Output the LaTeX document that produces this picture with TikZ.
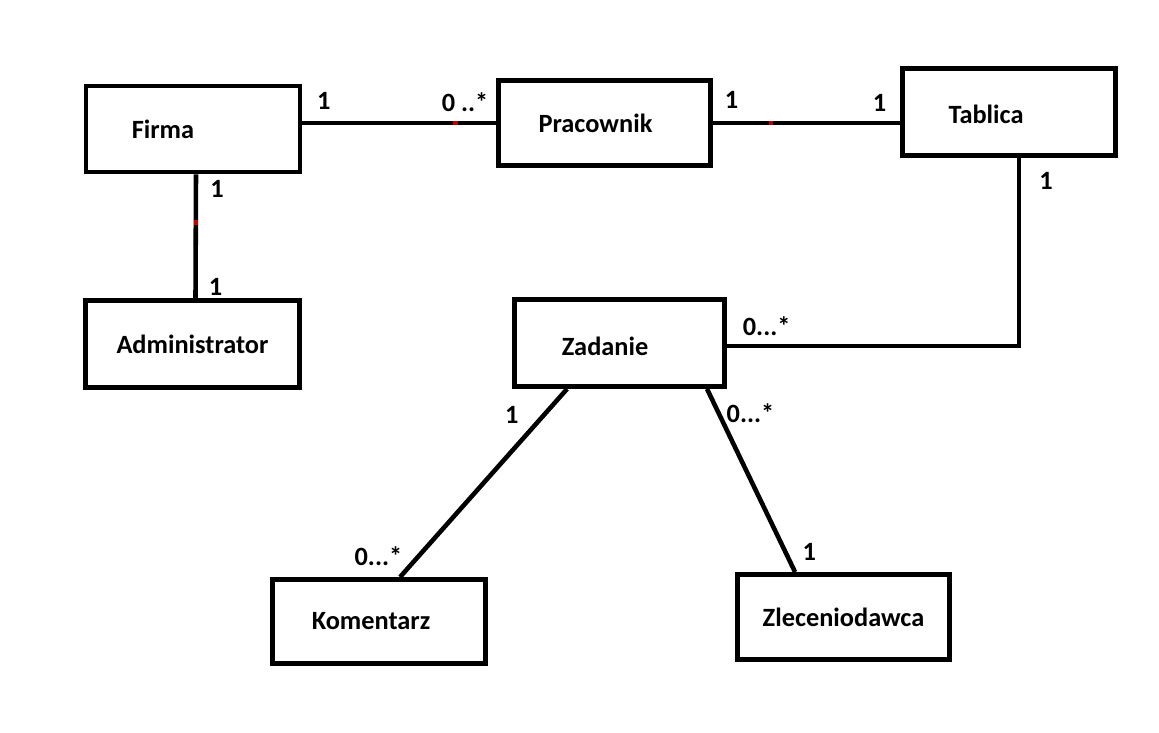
\documentclass[tikz,border=0pt]{standalone}
\usepackage{fontspec}
\setmainfont{Carlito}
\usetikzlibrary{positioning}
\tikzstyle{box} = [draw, rectangle, line width=2.8pt, inner sep=0]
\tikzstyle{title} = [font=\fontsize{15}{18}\selectfont\bfseries]
\tikzstyle{assoc} = [line width=2.6pt]
\tikzstyle{mult} = [font=\fontsize{15}{18}\selectfont\bfseries, inner sep=0]
\tikzstyle{tick} = [fill=red!75!black, inner sep=0, minimum size=0.09cm]

\begin{document}
\begin{tikzpicture}[x=0.02cm, y=-0.02cm]
        \useasboundingbox (0,0) rectangle (1159,733);
        \node [box, minimum width=4.28cm, minimum height=1.72cm, label={[title, xshift=-0.6cm]center:Firma}] (firma) at (193,129) {};
        \node [box, minimum width=4.24cm, minimum height=1.70cm, label={[title, xshift=-0.18cm]center:Pracownik}] (pracownik) at (604.5,123) {};
        \node [box, minimum width=4.26cm, minimum height=1.74cm, label={[title, xshift=-0.46cm, yshift=-0.04cm]center:Tablica}] (tablica) at (1009,112) {};
        \node [box, minimum width=4.28cm, minimum height=1.74cm, label={[title]center:Administrator}] (administrator) at (192.5,344) {};
        \node [box, minimum width=4.20cm, minimum height=1.74cm, label={[title, xshift=-0.29cm, yshift=-0.06cm]center:Zadanie}] (zadanie) at (619.5,343) {};
        \node [box, minimum width=4.26cm, minimum height=1.68cm, label={[title, xshift=-0.16cm]center:Komentarz}] (komentarz) at (379,621.5) {};
        \node [box, minimum width=4.24cm, minimum height=1.70cm, label={[title]center:Zleceniodawca}] (zleceniodawca) at (843.5,617) {};

        \path [assoc] (firma.east |- pracownik.west) edge
            node [tick, pos=.79] {}
            node [mult, pos=.11, yshift=0.44cm] {1}
            node [mult, pos=.84, yshift=0.42cm] {0 ..*} (pracownik.west);
        \path [assoc] (pracownik.east) edge
            node [tick, pos=.31] {}
            node [mult, pos=.10, yshift=0.46cm] {1}
            node [mult, pos=.89, yshift=0.40cm] {1} (pracownik.east -| tablica.west);
        \path [assoc] ([xshift=0.06cm]firma.south) edge
            node [tick, pos=.39] {}
            node [mult, pos=.12, xshift=0.42cm] {1}
            node [mult, pos=.91, xshift=0.40cm] {1} ([xshift=0.06cm]administrator.north);
        \draw [assoc] ([xshift=0.2cm]tablica.south) |-
            node [mult, pos=.062, xshift=0.54cm] {1}
            node [mult, pos=.932, yshift=0.40cm] {0...*} ([yshift=-0.06cm]zadanie.east);
        \path [assoc] ([xshift=1.1cm]zadanie.south west) edge
            node [mult, pos=.14, xshift=-0.64cm] {1}
            node [mult, pos=.89, xshift=-0.80cm] {0...*} ([xshift=2.6cm]komentarz.north west);
        \path [assoc] ([xshift=3.9cm]zadanie.south west) edge
            node [mult, pos=.13, xshift=0.64cm] {0...*}
            node [mult, pos=.89, xshift=0.48cm] {1} ([xshift=1.2cm]zleceniodawca.north west);
\end{tikzpicture}
\end{document}
